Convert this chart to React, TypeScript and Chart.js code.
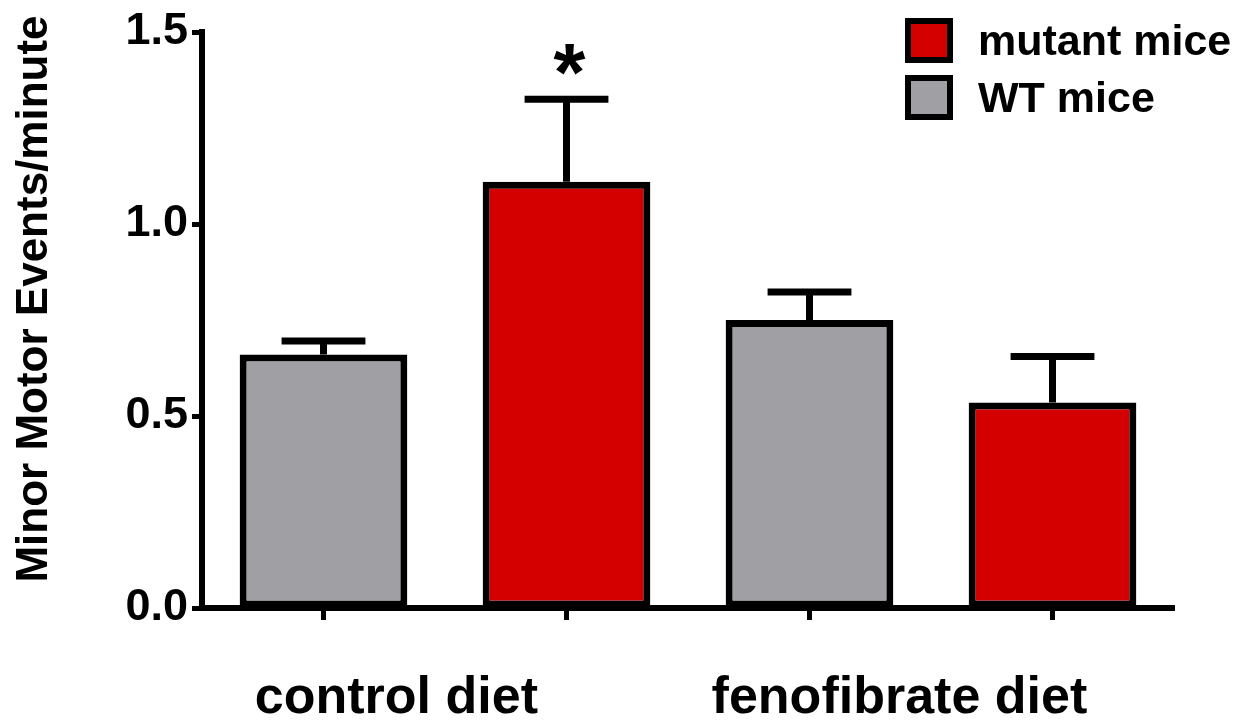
import React, { useEffect, useRef } from "react";
import { Chart, registerables } from "chart.js";

Chart.register(...registerables);

// ---- data ----
const groupLabels = ["control diet", "fenofibrate diet"];
const barGroup = [0, 0, 1, 1];
const barGenotype = ["WT mice", "mutant mice", "WT mice", "mutant mice"];
const means = [0.66, 1.11, 0.75, 0.535];
const sems = [0.035, 0.215, 0.073, 0.12];
const marks = ["", "*", "", ""];
const legendOrder = ["mutant mice", "WT mice"];
const yTicks = [0, 0.5, 1.0, 1.5];
const yTitle = "Minor Motor Events/minute";

const genotypeColor: Record<string, string> = {
  "mutant mice": "#d40000",
  "WT mice": "#a09fa4",
};

const FONT = '"Liberation Sans", Arial, Helvetica, sans-serif';
const LINE = 7;

const barLabels = barGroup.map((g, i) => `${groupLabels[g]} – ${barGenotype[i]}`);

const errorBarPlugin = {
  id: "errorBars",
  afterDatasetsDraw(chart: any) {
    const ctx = chart.ctx;
    const meta = chart.getDatasetMeta(0);
    const y = chart.scales.y;
    ctx.save();
    ctx.strokeStyle = "#000";
    ctx.lineWidth = LINE;
    ctx.lineCap = "butt";
    meta.data.forEach((bar: any, i: number) => {
      const top = y.getPixelForValue(means[i] + sems[i]);
      const half = bar.width / 4;
      ctx.beginPath();
      ctx.moveTo(bar.x, bar.y);
      ctx.lineTo(bar.x, top);
      ctx.moveTo(bar.x - half, top);
      ctx.lineTo(bar.x + half, top);
      ctx.stroke();
      if (marks[i]) {
        ctx.fillStyle = "#000";
        ctx.font = `bold 82px ${FONT}`;
        ctx.textAlign = "center";
        ctx.textBaseline = "alphabetic";
        ctx.fillText(marks[i], bar.x + 3, top + 1);
      }
    });
    ctx.restore();
  },
};

const labelsPlugin = {
  id: "extraLabels",
  afterDraw(chart: any) {
    const ctx = chart.ctx;
    const x = chart.scales.x;
    const area = chart.chartArea;
    ctx.save();
    ctx.fillStyle = "#000";

    // y axis title
    ctx.save();
    ctx.translate(47, (area.top + area.bottom) / 2 - 21);
    ctx.rotate(-Math.PI / 2);
    ctx.font = `bold 44px ${FONT}`;
    ctx.textAlign = "center";
    ctx.textBaseline = "alphabetic";
    ctx.fillText(yTitle, 0, 0);
    ctx.restore();

    // group labels
    const groupAt = [0.3, 2.37];
    ctx.font = `bold 52px ${FONT}`;
    ctx.textAlign = "center";
    ctx.textBaseline = "alphabetic";
    groupLabels.forEach((g, i) => {
      ctx.fillText(g, x.getPixelForValue(groupAt[i]), 713);
    });

    // legend
    const lx = 905;
    const boxW = 48;
    const boxH = 45;
    legendOrder.forEach((name, i) => {
      const ly = 18 + i * 57;
      ctx.fillStyle = "#000";
      ctx.fillRect(lx, ly, boxW, boxH);
      ctx.fillStyle = genotypeColor[name];
      ctx.fillRect(lx + 6, ly + 6, boxW - 12, boxH - 12);
      ctx.fillStyle = "#000";
      ctx.font = `bold 43px ${FONT}`;
      ctx.textAlign = "left";
      ctx.textBaseline = "alphabetic";
      ctx.fillText(name, 978, ly + 37);
    });
    ctx.restore();
  },
};

export default function App() {
  const ref = useRef<HTMLCanvasElement | null>(null);
  useEffect(() => {
    if (!ref.current) return;
    const chart = new Chart(ref.current, {
      type: "bar",
      data: {
        labels: barLabels,
        datasets: [
          {
            label: "Minor motor events",
            data: means,
            backgroundColor: barGenotype.map((g) => genotypeColor[g]),
            borderColor: "#000",
            borderWidth: LINE,
            borderSkipped: false,
            barPercentage: 0.69,
            categoryPercentage: 1,
          },
        ],
      },
      options: {
        responsive: false,
        animation: false,
        devicePixelRatio: 1,
        layout: { padding: { left: 0, right: 69, top: 32, bottom: 0 } },
        plugins: {
          legend: { display: false },
          tooltip: { enabled: false },
        },
        scales: {
          x: {
            type: "category",
            offset: true,
            grid: {
              display: true,
              drawOnChartArea: false,
              drawTicks: true,
              tickLength: 12,
              tickWidth: 5,
              tickColor: "#000",
              offset: false,
            },
            border: { display: true, color: "#000", width: 6 },
            ticks: { display: false },
            afterFit: (s: any) => {
              s.height = 117;
            },
          },
          y: {
            min: 0,
            max: 1.5,
            afterBuildTicks: (s: any) => {
              s.ticks = yTicks.map((v) => ({ value: v }));
            },
            grid: {
              display: true,
              drawOnChartArea: false,
              drawTicks: true,
              tickLength: 10,
              tickWidth: 5,
              tickColor: "#000",
            },
            border: { display: true, color: "#000", width: 6 },
            ticks: {
              color: "#000",
              padding: 4,
              font: { family: FONT, size: 45, weight: "bold" },
              callback: (v: any) => Number(v).toFixed(1),
            },
            afterFit: (s: any) => {
              s.width = 202;
            },
          },
        },
      },
      plugins: [errorBarPlugin, labelsPlugin],
    });
    return () => chart.destroy();
  }, []);
  return (
    <div style={{ position: "absolute", left: 0, top: 0, width: 1243, height: 725, background: "#fff" }}>
      <canvas ref={ref} width={1243} height={725} />
    </div>
  );
}
